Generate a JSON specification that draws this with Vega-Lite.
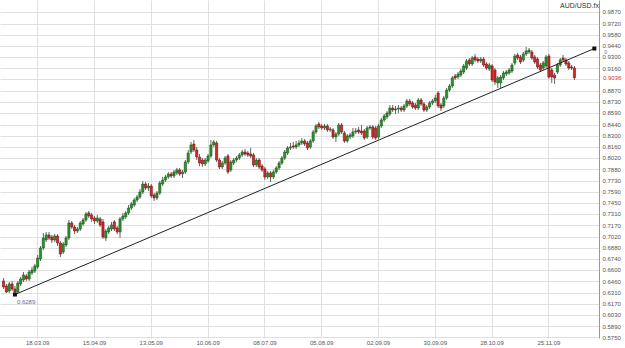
{
"$schema": "https://vega.github.io/schema/vega-lite/v6.json",
"width": 599,
"height": 338,
"autosize": "none",
"padding": {"left": 0, "top": 0, "right": 26, "bottom": 10},
"background": "white",
"title": {"text": "AUD/USD.fx", "anchor": "end", "frame": "group", "orient": "top", "fontSize": 7, "font": "Liberation Sans", "fontWeight": "normal", "color": "#333333", "offset": -9},
"config": {"view": {"stroke": null}, "axis": {"labelFont": "Liberation Sans", "labelFontSize": 6, "labelColor": "#555555", "gridColor": "#e0e0e0", "ticks": false, "labelOverlap": false}},
"datasets": {
"trend": [
{"d": "06.03.09", "p": 0.6289, "lab": "0.6289"},
{"d": "17.12.09", "p": 0.9407, "lab": "0"}
],
"ohlc": [
{"d":"02.03.09","o":0.6461,"h":0.6499,"l":0.6359,"c":0.6385},
{"d":"03.03.09","o":0.6397,"h":0.6423,"l":0.6309,"c":0.6321},
{"d":"04.03.09","o":0.6334,"h":0.6448,"l":0.6309,"c":0.6423},
{"d":"05.03.09","o":0.6423,"h":0.6461,"l":0.6334,"c":0.6359},
{"d":"06.03.09","o":0.6359,"h":0.6397,"l":0.6289,"c":0.6321},
{"d":"09.03.09","o":0.6321,"h":0.6461,"l":0.6309,"c":0.6435},
{"d":"10.03.09","o":0.6423,"h":0.6511,"l":0.6397,"c":0.6486},
{"d":"11.03.09","o":0.6473,"h":0.6575,"l":0.6448,"c":0.6537},
{"d":"12.03.09","o":0.6524,"h":0.6549,"l":0.6461,"c":0.6486},
{"d":"13.03.09","o":0.6486,"h":0.6600,"l":0.6461,"c":0.6575},
{"d":"16.03.09","o":0.6562,"h":0.6638,"l":0.6537,"c":0.6600},
{"d":"17.03.09","o":0.6587,"h":0.6676,"l":0.6562,"c":0.6651},
{"d":"18.03.09","o":0.6638,"h":0.6790,"l":0.6613,"c":0.6752},
{"d":"19.03.09","o":0.6740,"h":0.6904,"l":0.6714,"c":0.6879},
{"d":"20.03.09","o":0.6879,"h":0.7069,"l":0.6854,"c":0.7006},
{"d":"23.03.09","o":0.6980,"h":0.7082,"l":0.6955,"c":0.7044},
{"d":"24.03.09","o":0.7044,"h":0.7082,"l":0.6980,"c":0.7006},
{"d":"25.03.09","o":0.7018,"h":0.7044,"l":0.6942,"c":0.6980},
{"d":"26.03.09","o":0.6980,"h":0.7056,"l":0.6955,"c":0.7031},
{"d":"27.03.09","o":0.7031,"h":0.7056,"l":0.6904,"c":0.6942},
{"d":"30.03.09","o":0.6942,"h":0.6968,"l":0.6765,"c":0.6803},
{"d":"31.03.09","o":0.6828,"h":0.6955,"l":0.6803,"c":0.6930},
{"d":"01.04.09","o":0.6917,"h":0.7031,"l":0.6892,"c":0.7006},
{"d":"02.04.09","o":0.7006,"h":0.7234,"l":0.6980,"c":0.7196},
{"d":"03.04.09","o":0.7196,"h":0.7221,"l":0.7120,"c":0.7145},
{"d":"06.04.09","o":0.7145,"h":0.7171,"l":0.7056,"c":0.7094},
{"d":"07.04.09","o":0.7094,"h":0.7145,"l":0.7069,"c":0.7120},
{"d":"08.04.09","o":0.7120,"h":0.7221,"l":0.7094,"c":0.7196},
{"d":"09.04.09","o":0.7183,"h":0.7259,"l":0.7158,"c":0.7234},
{"d":"10.04.09","o":0.7234,"h":0.7335,"l":0.7209,"c":0.7310},
{"d":"13.04.09","o":0.7323,"h":0.7348,"l":0.7259,"c":0.7285},
{"d":"14.04.09","o":0.7297,"h":0.7323,"l":0.7209,"c":0.7247},
{"d":"15.04.09","o":0.7259,"h":0.7285,"l":0.7183,"c":0.7221},
{"d":"16.04.09","o":0.7221,"h":0.7297,"l":0.7196,"c":0.7259},
{"d":"17.04.09","o":0.7247,"h":0.7272,"l":0.7145,"c":0.7171},
{"d":"20.04.09","o":0.7209,"h":0.7247,"l":0.6993,"c":0.7018},
{"d":"21.04.09","o":0.7006,"h":0.7120,"l":0.6968,"c":0.7094},
{"d":"22.04.09","o":0.7082,"h":0.7158,"l":0.7056,"c":0.7133},
{"d":"23.04.09","o":0.7120,"h":0.7209,"l":0.7094,"c":0.7171},
{"d":"24.04.09","o":0.7209,"h":0.7234,"l":0.7094,"c":0.7120},
{"d":"27.04.09","o":0.7133,"h":0.7158,"l":0.7056,"c":0.7082},
{"d":"28.04.09","o":0.7082,"h":0.7272,"l":0.7006,"c":0.7247},
{"d":"29.04.09","o":0.7247,"h":0.7323,"l":0.7221,"c":0.7285},
{"d":"30.04.09","o":0.7272,"h":0.7348,"l":0.7247,"c":0.7323},
{"d":"01.05.09","o":0.7323,"h":0.7424,"l":0.7297,"c":0.7386},
{"d":"04.05.09","o":0.7386,"h":0.7462,"l":0.7361,"c":0.7437},
{"d":"05.05.09","o":0.7424,"h":0.7513,"l":0.7399,"c":0.7487},
{"d":"06.05.09","o":0.7487,"h":0.7551,"l":0.7462,"c":0.7525},
{"d":"07.05.09","o":0.7525,"h":0.7627,"l":0.7500,"c":0.7589},
{"d":"08.05.09","o":0.7589,"h":0.7728,"l":0.7563,"c":0.7690},
{"d":"11.05.09","o":0.7690,"h":0.7716,"l":0.7614,"c":0.7640},
{"d":"12.05.09","o":0.7640,"h":0.7703,"l":0.7601,"c":0.7665},
{"d":"13.05.09","o":0.7665,"h":0.7690,"l":0.7513,"c":0.7538},
{"d":"14.05.09","o":0.7551,"h":0.7576,"l":0.7475,"c":0.7513},
{"d":"15.05.09","o":0.7513,"h":0.7601,"l":0.7487,"c":0.7576},
{"d":"18.05.09","o":0.7576,"h":0.7728,"l":0.7551,"c":0.7703},
{"d":"19.05.09","o":0.7690,"h":0.7779,"l":0.7665,"c":0.7741},
{"d":"20.05.09","o":0.7741,"h":0.7804,"l":0.7716,"c":0.7779},
{"d":"21.05.09","o":0.7779,"h":0.7842,"l":0.7754,"c":0.7817},
{"d":"22.05.09","o":0.7817,"h":0.7842,"l":0.7766,"c":0.7792},
{"d":"25.05.09","o":0.7792,"h":0.7868,"l":0.7766,"c":0.7842},
{"d":"26.05.09","o":0.7830,"h":0.7893,"l":0.7804,"c":0.7868},
{"d":"27.05.09","o":0.7868,"h":0.7893,"l":0.7792,"c":0.7817},
{"d":"28.05.09","o":0.7817,"h":0.7868,"l":0.7766,"c":0.7842},
{"d":"29.05.09","o":0.7842,"h":0.7994,"l":0.7817,"c":0.7969},
{"d":"01.06.09","o":0.7969,"h":0.8121,"l":0.7944,"c":0.8083},
{"d":"02.06.09","o":0.8096,"h":0.8223,"l":0.8070,"c":0.8185},
{"d":"03.06.09","o":0.8197,"h":0.8248,"l":0.8096,"c":0.8121},
{"d":"04.06.09","o":0.8121,"h":0.8159,"l":0.7994,"c":0.8032},
{"d":"05.06.09","o":0.8032,"h":0.8070,"l":0.7918,"c":0.7956},
{"d":"08.06.09","o":0.7994,"h":0.8020,"l":0.7906,"c":0.7944},
{"d":"09.06.09","o":0.7944,"h":0.8020,"l":0.7918,"c":0.7994},
{"d":"10.06.09","o":0.7982,"h":0.8070,"l":0.7956,"c":0.8045},
{"d":"11.06.09","o":0.8045,"h":0.8248,"l":0.8020,"c":0.8185},
{"d":"12.06.09","o":0.8185,"h":0.8248,"l":0.8159,"c":0.8223},
{"d":"15.06.09","o":0.8210,"h":0.8235,"l":0.7969,"c":0.7994},
{"d":"16.06.09","o":0.7994,"h":0.8020,"l":0.7880,"c":0.7906},
{"d":"17.06.09","o":0.7906,"h":0.7982,"l":0.7880,"c":0.7956},
{"d":"18.06.09","o":0.7956,"h":0.8045,"l":0.7931,"c":0.8020},
{"d":"19.06.09","o":0.8045,"h":0.8070,"l":0.7817,"c":0.7842},
{"d":"22.06.09","o":0.7868,"h":0.7994,"l":0.7842,"c":0.7969},
{"d":"23.06.09","o":0.7956,"h":0.8020,"l":0.7931,"c":0.7994},
{"d":"24.06.09","o":0.7994,"h":0.8045,"l":0.7969,"c":0.8020},
{"d":"25.06.09","o":0.8020,"h":0.8083,"l":0.7994,"c":0.8058},
{"d":"26.06.09","o":0.8058,"h":0.8121,"l":0.8032,"c":0.8096},
{"d":"29.06.09","o":0.8096,"h":0.8134,"l":0.8045,"c":0.8070},
{"d":"30.06.09","o":0.8083,"h":0.8108,"l":0.8032,"c":0.8058},
{"d":"01.07.09","o":0.8070,"h":0.8147,"l":0.8020,"c":0.8045},
{"d":"02.07.09","o":0.8058,"h":0.8083,"l":0.7906,"c":0.7931},
{"d":"03.07.09","o":0.7931,"h":0.8020,"l":0.7906,"c":0.7994},
{"d":"06.07.09","o":0.7994,"h":0.8020,"l":0.7880,"c":0.7906},
{"d":"07.07.09","o":0.7918,"h":0.7944,"l":0.7842,"c":0.7868},
{"d":"08.07.09","o":0.7880,"h":0.7906,"l":0.7741,"c":0.7779},
{"d":"09.07.09","o":0.7779,"h":0.7855,"l":0.7754,"c":0.7830},
{"d":"10.07.09","o":0.7830,"h":0.7855,"l":0.7716,"c":0.7779},
{"d":"13.07.09","o":0.7779,"h":0.7868,"l":0.7754,"c":0.7842},
{"d":"14.07.09","o":0.7842,"h":0.7918,"l":0.7817,"c":0.7893},
{"d":"15.07.09","o":0.7893,"h":0.7982,"l":0.7868,"c":0.7956},
{"d":"16.07.09","o":0.7956,"h":0.8045,"l":0.7931,"c":0.8020},
{"d":"17.07.09","o":0.8020,"h":0.8121,"l":0.7994,"c":0.8096},
{"d":"20.07.09","o":0.8083,"h":0.8172,"l":0.8058,"c":0.8147},
{"d":"21.07.09","o":0.8147,"h":0.8210,"l":0.8121,"c":0.8159},
{"d":"22.07.09","o":0.8172,"h":0.8223,"l":0.8134,"c":0.8159},
{"d":"23.07.09","o":0.8159,"h":0.8235,"l":0.8134,"c":0.8185},
{"d":"24.07.09","o":0.8185,"h":0.8248,"l":0.8159,"c":0.8210},
{"d":"27.07.09","o":0.8210,"h":0.8273,"l":0.8185,"c":0.8235},
{"d":"28.07.09","o":0.8235,"h":0.8261,"l":0.8172,"c":0.8197},
{"d":"29.07.09","o":0.8210,"h":0.8235,"l":0.8121,"c":0.8147},
{"d":"30.07.09","o":0.8159,"h":0.8261,"l":0.8134,"c":0.8235},
{"d":"31.07.09","o":0.8235,"h":0.8375,"l":0.8210,"c":0.8349},
{"d":"03.08.09","o":0.8349,"h":0.8451,"l":0.8324,"c":0.8425},
{"d":"04.08.09","o":0.8451,"h":0.8476,"l":0.8387,"c":0.8413},
{"d":"05.08.09","o":0.8425,"h":0.8451,"l":0.8375,"c":0.8400},
{"d":"06.08.09","o":0.8400,"h":0.8451,"l":0.8375,"c":0.8425},
{"d":"07.08.09","o":0.8425,"h":0.8451,"l":0.8349,"c":0.8375},
{"d":"10.08.09","o":0.8375,"h":0.8413,"l":0.8349,"c":0.8387},
{"d":"11.08.09","o":0.8375,"h":0.8400,"l":0.8261,"c":0.8286},
{"d":"12.08.09","o":0.8286,"h":0.8349,"l":0.8223,"c":0.8324},
{"d":"13.08.09","o":0.8324,"h":0.8463,"l":0.8299,"c":0.8438},
{"d":"14.08.09","o":0.8438,"h":0.8463,"l":0.8324,"c":0.8349},
{"d":"17.08.09","o":0.8337,"h":0.8362,"l":0.8210,"c":0.8235},
{"d":"18.08.09","o":0.8235,"h":0.8324,"l":0.8210,"c":0.8299},
{"d":"19.08.09","o":0.8286,"h":0.8337,"l":0.8261,"c":0.8311},
{"d":"20.08.09","o":0.8299,"h":0.8400,"l":0.8273,"c":0.8349},
{"d":"21.08.09","o":0.8349,"h":0.8400,"l":0.8324,"c":0.8362},
{"d":"24.08.09","o":0.8375,"h":0.8413,"l":0.8324,"c":0.8349},
{"d":"25.08.09","o":0.8362,"h":0.8438,"l":0.8311,"c":0.8337},
{"d":"26.08.09","o":0.8362,"h":0.8387,"l":0.8248,"c":0.8273},
{"d":"27.08.09","o":0.8286,"h":0.8425,"l":0.8261,"c":0.8400},
{"d":"28.08.09","o":0.8400,"h":0.8438,"l":0.8375,"c":0.8413},
{"d":"31.08.09","o":0.8413,"h":0.8438,"l":0.8261,"c":0.8286},
{"d":"01.09.09","o":0.8400,"h":0.8425,"l":0.8248,"c":0.8273},
{"d":"02.09.09","o":0.8286,"h":0.8451,"l":0.8261,"c":0.8425},
{"d":"03.09.09","o":0.8425,"h":0.8527,"l":0.8400,"c":0.8501},
{"d":"04.09.09","o":0.8501,"h":0.8577,"l":0.8476,"c":0.8552},
{"d":"07.09.09","o":0.8539,"h":0.8615,"l":0.8514,"c":0.8590},
{"d":"08.09.09","o":0.8577,"h":0.8691,"l":0.8552,"c":0.8653},
{"d":"09.09.09","o":0.8653,"h":0.8691,"l":0.8603,"c":0.8628},
{"d":"10.09.09","o":0.8628,"h":0.8679,"l":0.8577,"c":0.8641},
{"d":"11.09.09","o":0.8641,"h":0.8691,"l":0.8590,"c":0.8653},
{"d":"14.09.09","o":0.8653,"h":0.8679,"l":0.8603,"c":0.8628},
{"d":"15.09.09","o":0.8628,"h":0.8704,"l":0.8603,"c":0.8679},
{"d":"16.09.09","o":0.8679,"h":0.8767,"l":0.8653,"c":0.8742},
{"d":"17.09.09","o":0.8742,"h":0.8767,"l":0.8679,"c":0.8704},
{"d":"18.09.09","o":0.8717,"h":0.8742,"l":0.8641,"c":0.8666},
{"d":"21.09.09","o":0.8691,"h":0.8717,"l":0.8628,"c":0.8653},
{"d":"22.09.09","o":0.8653,"h":0.8780,"l":0.8628,"c":0.8755},
{"d":"23.09.09","o":0.8755,"h":0.8780,"l":0.8679,"c":0.8704},
{"d":"24.09.09","o":0.8704,"h":0.8729,"l":0.8603,"c":0.8628},
{"d":"25.09.09","o":0.8628,"h":0.8691,"l":0.8603,"c":0.8666},
{"d":"28.09.09","o":0.8666,"h":0.8742,"l":0.8641,"c":0.8717},
{"d":"29.09.09","o":0.8717,"h":0.8767,"l":0.8691,"c":0.8742},
{"d":"30.09.09","o":0.8742,"h":0.8818,"l":0.8717,"c":0.8780},
{"d":"01.10.09","o":0.8843,"h":0.8869,"l":0.8653,"c":0.8679},
{"d":"02.10.09","o":0.8691,"h":0.8717,"l":0.8615,"c":0.8653},
{"d":"05.10.09","o":0.8679,"h":0.8805,"l":0.8653,"c":0.8780},
{"d":"06.10.09","o":0.8780,"h":0.8907,"l":0.8755,"c":0.8881},
{"d":"07.10.09","o":0.8881,"h":0.8958,"l":0.8856,"c":0.8932},
{"d":"08.10.09","o":0.8932,"h":0.9059,"l":0.8907,"c":0.9034},
{"d":"09.10.09","o":0.9059,"h":0.9084,"l":0.9008,"c":0.9034},
{"d":"12.10.09","o":0.9046,"h":0.9110,"l":0.9021,"c":0.9084},
{"d":"13.10.09","o":0.9072,"h":0.9148,"l":0.9046,"c":0.9122},
{"d":"14.10.09","o":0.9110,"h":0.9211,"l":0.9084,"c":0.9186},
{"d":"15.10.09","o":0.9160,"h":0.9274,"l":0.9135,"c":0.9249},
{"d":"16.10.09","o":0.9262,"h":0.9287,"l":0.9186,"c":0.9211},
{"d":"19.10.09","o":0.9211,"h":0.9312,"l":0.9186,"c":0.9287},
{"d":"20.10.09","o":0.9300,"h":0.9338,"l":0.9236,"c":0.9262},
{"d":"21.10.09","o":0.9274,"h":0.9300,"l":0.9224,"c":0.9249},
{"d":"22.10.09","o":0.9249,"h":0.9300,"l":0.9224,"c":0.9274},
{"d":"23.10.09","o":0.9274,"h":0.9300,"l":0.9173,"c":0.9198},
{"d":"26.10.09","o":0.9211,"h":0.9236,"l":0.9135,"c":0.9160},
{"d":"27.10.09","o":0.9148,"h":0.9224,"l":0.9122,"c":0.9198},
{"d":"28.10.09","o":0.9186,"h":0.9211,"l":0.8983,"c":0.9008},
{"d":"29.10.09","o":0.9135,"h":0.9160,"l":0.8945,"c":0.8983},
{"d":"30.10.09","o":0.8970,"h":0.9059,"l":0.8907,"c":0.9034},
{"d":"02.11.09","o":0.8970,"h":0.9072,"l":0.8907,"c":0.9046},
{"d":"03.11.09","o":0.9034,"h":0.9122,"l":0.9008,"c":0.9097},
{"d":"04.11.09","o":0.9084,"h":0.9135,"l":0.9059,"c":0.9110},
{"d":"05.11.09","o":0.9097,"h":0.9160,"l":0.9072,"c":0.9135},
{"d":"06.11.09","o":0.9122,"h":0.9224,"l":0.9097,"c":0.9198},
{"d":"09.11.09","o":0.9224,"h":0.9338,"l":0.9198,"c":0.9312},
{"d":"10.11.09","o":0.9325,"h":0.9350,"l":0.9262,"c":0.9287},
{"d":"11.11.09","o":0.9300,"h":0.9325,"l":0.9211,"c":0.9236},
{"d":"12.11.09","o":0.9262,"h":0.9363,"l":0.9236,"c":0.9338},
{"d":"13.11.09","o":0.9338,"h":0.9426,"l":0.9312,"c":0.9376},
{"d":"16.11.09","o":0.9363,"h":0.9414,"l":0.9338,"c":0.9388},
{"d":"17.11.09","o":0.9363,"h":0.9388,"l":0.9262,"c":0.9287},
{"d":"18.11.09","o":0.9300,"h":0.9325,"l":0.9211,"c":0.9236},
{"d":"19.11.09","o":0.9274,"h":0.9300,"l":0.9148,"c":0.9173},
{"d":"20.11.09","o":0.9198,"h":0.9224,"l":0.9110,"c":0.9135},
{"d":"23.11.09","o":0.9160,"h":0.9249,"l":0.9135,"c":0.9224},
{"d":"24.11.09","o":0.9186,"h":0.9325,"l":0.9160,"c":0.9300},
{"d":"25.11.09","o":0.9312,"h":0.9338,"l":0.9021,"c":0.9046},
{"d":"26.11.09","o":0.9135,"h":0.9160,"l":0.8970,"c":0.9046},
{"d":"27.11.09","o":0.9072,"h":0.9097,"l":0.8958,"c":0.9034},
{"d":"30.11.09","o":0.9110,"h":0.9224,"l":0.9084,"c":0.9198},
{"d":"01.12.09","o":0.9198,"h":0.9287,"l":0.9173,"c":0.9262},
{"d":"02.12.09","o":0.9287,"h":0.9325,"l":0.9236,"c":0.9262},
{"d":"03.12.09","o":0.9262,"h":0.9287,"l":0.9186,"c":0.9211},
{"d":"04.12.09","o":0.9224,"h":0.9249,"l":0.9135,"c":0.9160},
{"d":"07.12.09","o":0.9173,"h":0.9198,"l":0.9135,"c":0.9160},
{"d":"08.12.09","o":0.9160,"h":0.9186,"l":0.9008,"c":0.9036}
]
},
"encoding": {
"x": {"field": "d", "type": "ordinal", "title": null,
"scale": {"paddingInner": 0, "paddingOuter": 0.95, "align": 0.4, "domain": ["02.03.09","03.03.09","04.03.09","05.03.09","06.03.09","09.03.09","10.03.09","11.03.09","12.03.09","13.03.09","16.03.09","17.03.09","18.03.09","19.03.09","20.03.09","23.03.09","24.03.09","25.03.09","26.03.09","27.03.09","30.03.09","31.03.09","01.04.09","02.04.09","03.04.09","06.04.09","07.04.09","08.04.09","09.04.09","10.04.09","13.04.09","14.04.09","15.04.09","16.04.09","17.04.09","20.04.09","21.04.09","22.04.09","23.04.09","24.04.09","27.04.09","28.04.09","29.04.09","30.04.09","01.05.09","04.05.09","05.05.09","06.05.09","07.05.09","08.05.09","11.05.09","12.05.09","13.05.09","14.05.09","15.05.09","18.05.09","19.05.09","20.05.09","21.05.09","22.05.09","25.05.09","26.05.09","27.05.09","28.05.09","29.05.09","01.06.09","02.06.09","03.06.09","04.06.09","05.06.09","08.06.09","09.06.09","10.06.09","11.06.09","12.06.09","15.06.09","16.06.09","17.06.09","18.06.09","19.06.09","22.06.09","23.06.09","24.06.09","25.06.09","26.06.09","29.06.09","30.06.09","01.07.09","02.07.09","03.07.09","06.07.09","07.07.09","08.07.09","09.07.09","10.07.09","13.07.09","14.07.09","15.07.09","16.07.09","17.07.09","20.07.09","21.07.09","22.07.09","23.07.09","24.07.09","27.07.09","28.07.09","29.07.09","30.07.09","31.07.09","03.08.09","04.08.09","05.08.09","06.08.09","07.08.09","10.08.09","11.08.09","12.08.09","13.08.09","14.08.09","17.08.09","18.08.09","19.08.09","20.08.09","21.08.09","24.08.09","25.08.09","26.08.09","27.08.09","28.08.09","31.08.09","01.09.09","02.09.09","03.09.09","04.09.09","07.09.09","08.09.09","09.09.09","10.09.09","11.09.09","14.09.09","15.09.09","16.09.09","17.09.09","18.09.09","21.09.09","22.09.09","23.09.09","24.09.09","25.09.09","28.09.09","29.09.09","30.09.09","01.10.09","02.10.09","05.10.09","06.10.09","07.10.09","08.10.09","09.10.09","12.10.09","13.10.09","14.10.09","15.10.09","16.10.09","19.10.09","20.10.09","21.10.09","22.10.09","23.10.09","26.10.09","27.10.09","28.10.09","29.10.09","30.10.09","02.11.09","03.11.09","04.11.09","05.11.09","06.11.09","09.11.09","10.11.09","11.11.09","12.11.09","13.11.09","16.11.09","17.11.09","18.11.09","19.11.09","20.11.09","23.11.09","24.11.09","25.11.09","26.11.09","27.11.09","30.11.09","01.12.09","02.12.09","03.12.09","04.12.09","07.12.09","08.12.09","09.12.09","10.12.09","11.12.09","14.12.09","15.12.09","16.12.09","17.12.09"]},
"axis": {"values": ["18.03.09","15.04.09","13.05.09","10.06.09","08.07.09","05.08.09","02.09.09","30.09.09","28.10.09","25.11.09"], "grid": true, "domain": false, "ticks": false, "labelAngle": 0, "labelPadding": 1, "bandPosition": 0.5, "labelBaseline": "top"}}
},
"layer": [
{"data": {"name": "ohlc"},
"mark": {"type": "rule", "color": "#666666", "strokeWidth": 1},
"encoding": {
"y": {"field": "l", "type": "quantitative", "title": null,
"scale": {"domain": [0.5738, 1.0022], "nice": false, "zero": false},
"axis": {"orient": "right", "tickCount": 60, "values": [0.575,0.589,0.603,0.617,0.631,0.646,0.66,0.674,0.688,0.702,0.717,0.731,0.745,0.759,0.773,0.788,0.802,0.816,0.83,0.844,0.859,0.873,0.887,0.9015,0.916,0.93,0.944,0.958,0.972,0.987],
"labelExpr": "datum.value > 0.9 && datum.value < 0.91 ? '' : format(datum.value, '.4f')",
"grid": true, "domain": true, "domainColor": "#999999", "ticks": false, "labelPadding": 3, "labelOverlap": false}},
"y2": {"field": "h"}}},
{"data": {"name": "ohlc"},
"mark": {"type": "bar", "width": 2.2, "strokeWidth": 0.6},
"encoding": {
"y": {"field": "o", "type": "quantitative", "title": null},
"y2": {"field": "c"},
"fill": {"condition": {"test": "datum.c >= datum.o", "value": "#2a922a"}, "value": "#cf2828"},
"stroke": {"condition": {"test": "datum.c >= datum.o", "value": "#1d5a1d"}, "value": "#7a1515"}}},
{"data": {"name": "trend"},
"mark": {"type": "line", "color": "#222222", "strokeWidth": 1},
"encoding": {"y": {"field": "p", "type": "quantitative", "title": null}}},
{"data": {"name": "trend"},
"mark": {"type": "point", "shape": "square", "filled": true, "size": 16, "color": "#111111", "opacity": 1},
"encoding": {"y": {"field": "p", "type": "quantitative", "title": null}}},
{"data": {"name": "trend"},
"transform": [{"filter": "datum.d == '06.03.09'"}],
"mark": {"type": "text", "align": "left", "baseline": "middle", "dx": 2, "dy": 7, "fontSize": 6, "font": "Liberation Sans", "color": "#4a6fb0"},
"encoding": {"y": {"field": "p", "type": "quantitative", "title": null}, "text": {"field": "lab"}}},
{"data": {"name": "trend"},
"transform": [{"filter": "datum.d == '17.12.09'"}],
"mark": {"type": "text", "align": "left", "baseline": "middle", "dx": 10, "dy": 3, "fontSize": 5, "font": "Liberation Sans", "color": "#4a6fb0"},
"encoding": {"y": {"field": "p", "type": "quantitative", "title": null}, "text": {"field": "lab"}}},
{"data": {"name": "ohlc"},
"transform": [{"filter": "datum.d == '08.12.09'"}],
"mark": {"type": "text", "align": "left", "baseline": "middle", "dx": 28.5, "fontSize": 6, "font": "Liberation Sans", "color": "#d03030"},
"encoding": {"y": {"field": "c", "type": "quantitative", "title": null}, "text": {"field": "c", "type": "quantitative", "format": ".4f"}}}
]
}
